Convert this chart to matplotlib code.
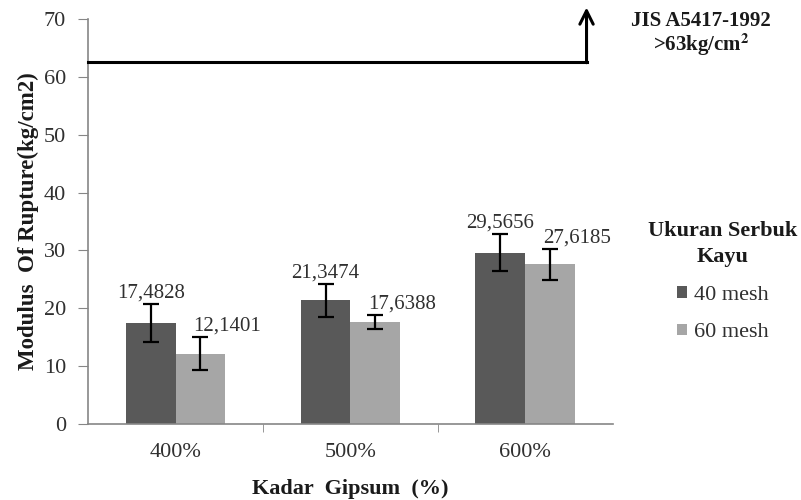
import numpy as np
import matplotlib.pyplot as plt

# Data: Modulus of Rupture per gypsum content and sawdust size
kadar = ["400%", "500%", "600%"]
mor_40 = [17.4828, 21.3474, 29.5656]
mor_60 = [12.1401, 17.6388, 27.6185]
err_40 = [3.3, 2.9, 3.2]
err_60 = [2.85, 1.25, 2.7]
label_40 = ["17,4828", "21,3474", "29,5656"]
label_60 = ["12,1401", "17,6388", "27,6185"]
batas_jis = 62.6

plt.rcParams['font.family'] = ['Liberation Serif', 'DejaVu Serif']
plt.rcParams['mathtext.fontset'] = 'stix'

fig = plt.figure(figsize=(8.01, 5.0), dpi=100)
ax = fig.add_axes([0.110, 0.152, 0.655, 0.810])

x = np.arange(len(kadar))
w = 0.285
c40 = '#595959'
c60 = '#a6a6a6'
txt = '#303030'
b1 = ax.bar(x - w / 2, mor_40, w, color=c40, label='40 mesh', zorder=2)
b2 = ax.bar(x + w / 2, mor_60, w, color=c60, label='60 mesh', zorder=2)
ax.errorbar(x - w / 2, mor_40, yerr=err_40, fmt='none', ecolor='black',
            elinewidth=1.6, capsize=6, capthick=1.6, zorder=3)
ax.errorbar(x + w / 2, mor_60, yerr=err_60, fmt='none', ecolor='black',
            elinewidth=1.6, capsize=6, capthick=1.6, zorder=3)

# value labels: 40 mesh centred, 60 mesh shifted to the right
for xi, v, e, t in zip(x - w / 2, mor_40, err_40, label_40):
    ax.annotate(t, (xi, v + e), xytext=(0, 1), textcoords='offset points',
                ha='center', va='bottom', fontsize=15, color=txt)
for xi, v, e, t in zip(x + w / 2, mor_60, err_60, label_60):
    ax.annotate(t, (xi, v + e), xytext=(19, 1), textcoords='offset points',
                ha='center', va='bottom', fontsize=15, color=txt)

# JIS standard line with upward arrow
x_end = 2.35
ax.plot([-0.5, x_end], [batas_jis, batas_jis], color='black', lw=2.2,
        clip_on=False, zorder=4)
ax.annotate('', xy=(x_end, 72.0), xytext=(x_end, batas_jis - 0.15),
            arrowprops=dict(arrowstyle='->', color='black', lw=2.2,
                            mutation_scale=24, shrinkA=0, shrinkB=0),
            annotation_clip=False)
fig.text(0.875, 0.958, 'JIS A5417-1992', ha='center', va='center',
         fontsize=15, fontweight='bold', color='#1a1a1a')
fig.text(0.875, 0.910, r'>63kg/cm$^{\mathbf{2}}$', ha='center', va='center',
         fontsize=15, fontweight='bold', color='#1a1a1a')

ax.set_xlim(-0.5, 2.5)
ax.set_ylim(0, 70)
ax.set_yticks(range(0, 71, 10))
ax.set_xticks(x)
ax.set_xticklabels(kadar, fontsize=16, color=txt)
ax.set_xticks([0.5, 1.5], minor=True)
ax.tick_params(axis='x', which='major', length=0, pad=14)
ax.tick_params(axis='x', which='minor', length=6, color='#868686')
ax.tick_params(axis='y', labelsize=16, labelcolor=txt, length=7,
               color='#868686', pad=9)
for s in ['top', 'right']:
    ax.spines[s].set_visible(False)
for s in ['left', 'bottom']:
    ax.spines[s].set_color('#868686')
    ax.spines[s].set_linewidth(1.2)

ax.set_xlabel('Kadar  Gipsum  (%)', fontsize=16, fontweight='bold',
              labelpad=12, color='#1a1a1a')
ax.set_ylabel('Modulus  Of Rupture(kg/cm2)', fontsize=16.5, fontweight='bold',
              labelpad=3, color='#1a1a1a')

leg = ax.legend(handles=[b1, b2], title='Ukuran Serbuk\nKayu',
                loc='center', bbox_to_anchor=(0.902, 0.437),
                bbox_transform=fig.transFigure, frameon=False, fontsize=16,
                title_fontproperties={'weight': 'bold', 'size': 16},
                handlelength=0.45, handleheight=0.45, handletextpad=0.3,
                labelspacing=0.85)
leg.get_title().set_multialignment('center')
leg.get_title().set_color('#1a1a1a')
leg.get_title().set_linespacing(1.4)
for t in leg.get_texts():
    t.set_color(txt)

fig.savefig('out.png', dpi=100)
